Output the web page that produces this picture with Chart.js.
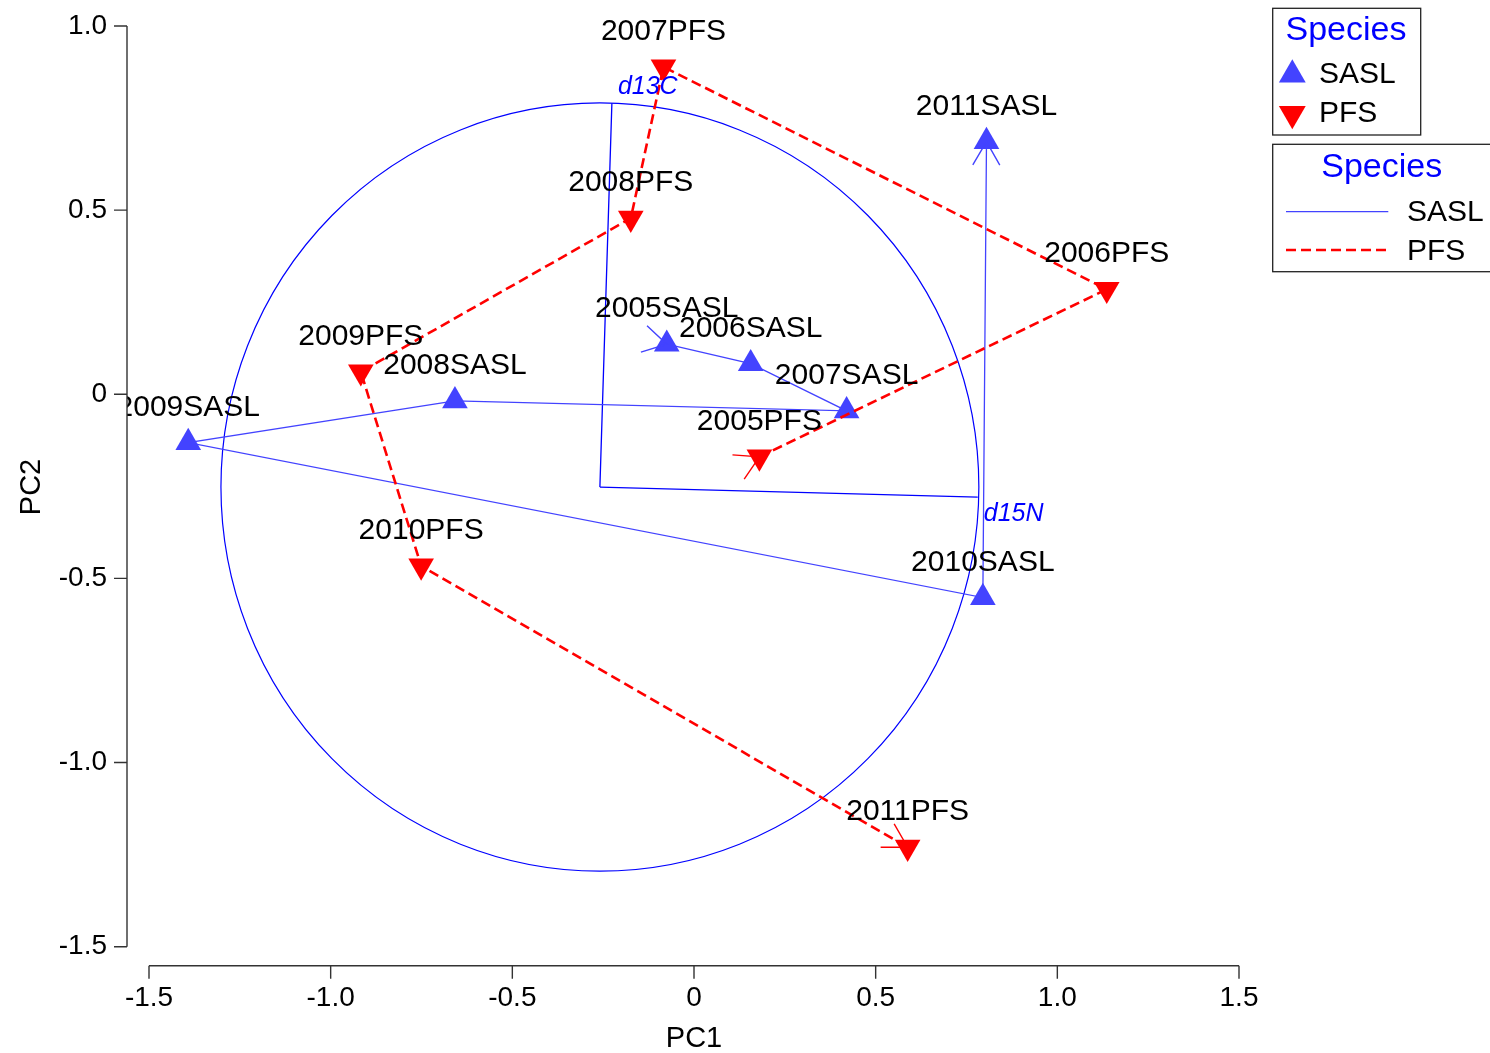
<!DOCTYPE html>
<html>
<head>
<meta charset="utf-8">
<title>PCA biplot: SASL and PFS</title>
<script src="https://cdn.jsdelivr.net/npm/chart.js@4.4.1/dist/chart.umd.min.js"></script>
<style>
  html, body { margin: 0; padding: 0; background: #ffffff; }
  canvas { display: block; }
</style>
</head>
<body>
<canvas id="pca" width="1490" height="1053"></canvas>
<script>
// ---- Sample scores (PC1 / PC2) per year ----
const years = ['2005', '2006', '2007', '2008', '2009', '2010', '2011'];
const saslPC1 = [-0.075, 0.156, 0.420, -0.658, -1.392, 0.795, 0.805];
const saslPC2 = [0.136, 0.083, -0.045, -0.018, -0.131, -0.552, 0.686];
const pfsPC1 = [0.180, 1.136, -0.084, -0.174, -0.917, -0.751, 0.588];
const pfsPC2 = [-0.170, 0.285, 0.889, 0.478, 0.061, -0.466, -1.230];

// ---- Variable loadings (isotope vectors) and correlation circle ----
const loadingNames = ['d13C', 'd15N'];
const loadingOrigin = [-0.259, -0.252];
const loadingPC1 = [-0.226, 0.781];
const loadingPC2 = [0.790, -0.279];
const circleRadius = 1.043;

// ---- Axes ----
const xTicks = [-1.5, -1.0, -0.5, 0, 0.5, 1.0, 1.5];
const yTicks = [-1.5, -1.0, -0.5, 0, 0.5, 1.0];
const speciesNames = ['SASL', 'PFS'];

const FONT = '"Liberation Sans", Arial, Helvetica, sans-serif';
const SASL_COLOR = '#4343ff';
const PFS_COLOR = '#ff0000';
const LOADING_COLOR = '#0000ff';
const AXIS_COLOR = '#333333';
const PFS_DASH = [10, 5];

function toPoints(xs, ys) {
  return xs.map((x, i) => ({ x: x, y: ys[i] }));
}

const saslPoints = toPoints(saslPC1, saslPC2);
const pfsPoints = toPoints(pfsPC1, pfsPC2);

const loadingDatasets = loadingNames.map((name, i) => ({
  label: name,
  data: [{ x: loadingOrigin[0], y: loadingOrigin[1] }, { x: loadingPC1[i], y: loadingPC2[i] }],
  showLine: true,
  borderColor: LOADING_COLOR,
  borderWidth: 1.3,
  pointRadius: 0,
  fill: false,
  clip: false,
  order: 10
}));

// Correlation circle around the loading origin
const circlePlugin = {
  id: 'circle',
  beforeDatasetsDraw(chart) {
    const { ctx, scales: { x, y } } = chart;
    const cx = x.getPixelForValue(loadingOrigin[0]);
    const cy = y.getPixelForValue(loadingOrigin[1]);
    const rx = x.getPixelForValue(loadingOrigin[0] + circleRadius) - cx;
    const ry = cy - y.getPixelForValue(loadingOrigin[1] + circleRadius);
    ctx.save();
    ctx.strokeStyle = LOADING_COLOR;
    ctx.lineWidth = 1.2;
    ctx.beginPath();
    ctx.ellipse(cx, cy, rx, ry, 0, 0, Math.PI * 2);
    ctx.stroke();
    ctx.restore();
  }
};

function wing(ctx, tip, from, color) {
  const ang = Math.atan2(tip.y - from.y, tip.x - from.x);
  const len = 27, spread = Math.PI / 6;
  ctx.save();
  ctx.strokeStyle = color;
  ctx.lineWidth = 1.4;
  ctx.setLineDash([]);
  ctx.beginPath();
  ctx.moveTo(tip.x + Math.cos(ang + Math.PI - spread) * len, tip.y + Math.sin(ang + Math.PI - spread) * len);
  ctx.lineTo(tip.x, tip.y);
  ctx.lineTo(tip.x + Math.cos(ang + Math.PI + spread) * len, tip.y + Math.sin(ang + Math.PI + spread) * len);
  ctx.stroke();
  ctx.restore();
}

// Arrow heads, point labels and loading labels
const annotatePlugin = {
  id: 'annotate',
  afterDatasetsDraw(chart) {
    const { ctx, scales: { x, y } } = chart;
    const series = [
      { name: 'SASL', xs: saslPC1, ys: saslPC2, color: SASL_COLOR },
      { name: 'PFS', xs: pfsPC1, ys: pfsPC2, color: PFS_COLOR }
    ];
    series.forEach(s => {
      const px = s.xs.map(v => x.getPixelForValue(v));
      const py = s.ys.map(v => y.getPixelForValue(v));
      const n = px.length;
      // direction of travel at the first and the last year
      wing(ctx, { x: px[0], y: py[0] }, { x: 2 * px[0] - px[1], y: 2 * py[0] - py[1] }, s.color);
      wing(ctx, { x: px[n - 1], y: py[n - 1] }, { x: px[n - 2], y: py[n - 2] }, s.color);
    });

    const axisX = x.getPixelForValue(xTicks[0]) - 22;
    ctx.save();
    ctx.beginPath();
    ctx.rect(axisX, 0, chart.width - axisX, chart.height);
    ctx.clip();
    ctx.font = '30px ' + FONT;
    ctx.fillStyle = '#000000';
    ctx.textAlign = 'center';
    ctx.textBaseline = 'alphabetic';
    series.forEach(s => {
      s.xs.forEach((v, i) => {
        ctx.fillText(years[i] + s.name, x.getPixelForValue(v), y.getPixelForValue(s.ys[i]) - 27);
      });
    });
    ctx.restore();

    ctx.save();
    ctx.font = 'italic 25px ' + FONT;
    ctx.fillStyle = LOADING_COLOR;
    ctx.textAlign = 'left';
    ctx.textBaseline = 'alphabetic';
    loadingNames.forEach((name, i) => {
      const ex = x.getPixelForValue(loadingPC1[i]);
      const ey = y.getPixelForValue(loadingPC2[i]);
      const above = loadingPC2[i] > loadingOrigin[1];
      ctx.fillText(name, ex + 6, above ? ey - 9 : ey + 24);
    });
    ctx.restore();
  }
};

function triangle(ctx, cx, cy, r, down, color) {
  ctx.save();
  ctx.fillStyle = color;
  ctx.beginPath();
  const s = down ? -1 : 1;
  ctx.moveTo(cx, cy - s * r);
  ctx.lineTo(cx + r * Math.sqrt(3) / 2, cy + s * r / 2);
  ctx.lineTo(cx - r * Math.sqrt(3) / 2, cy + s * r / 2);
  ctx.closePath();
  ctx.fill();
  ctx.restore();
}

// Detached axes, axis titles and the two legend boxes
const framePlugin = {
  id: 'frame',
  afterDraw(chart) {
    const { ctx, scales: { x, y } } = chart;
    const axisX = x.getPixelForValue(xTicks[0]) - 22;
    const axisY = y.getPixelForValue(yTicks[0]) + 19;
    ctx.save();
    ctx.strokeStyle = AXIS_COLOR;
    ctx.lineWidth = 1.4;
    ctx.beginPath();
    ctx.moveTo(axisX, y.getPixelForValue(yTicks[yTicks.length - 1]));
    ctx.lineTo(axisX, y.getPixelForValue(yTicks[0]));
    yTicks.forEach(t => {
      const p = y.getPixelForValue(t);
      ctx.moveTo(axisX - 13, p);
      ctx.lineTo(axisX, p);
    });
    ctx.moveTo(x.getPixelForValue(xTicks[0]), axisY);
    ctx.lineTo(x.getPixelForValue(xTicks[xTicks.length - 1]), axisY);
    xTicks.forEach(t => {
      const p = x.getPixelForValue(t);
      ctx.moveTo(p, axisY);
      ctx.lineTo(p, axisY + 13);
    });
    ctx.stroke();

    ctx.fillStyle = '#000000';
    ctx.font = '29px ' + FONT;
    ctx.textAlign = 'center';
    ctx.textBaseline = 'alphabetic';
    ctx.fillText('PC1', x.getPixelForValue(0), 1047);
    ctx.save();
    ctx.translate(40, 487);
    ctx.rotate(-Math.PI / 2);
    ctx.fillText('PC2', 0, 0);
    ctx.restore();

    // legend: shape
    ctx.strokeStyle = '#222222';
    ctx.lineWidth = 1.3;
    ctx.strokeRect(1272.7, 8.3, 148, 126.7);
    ctx.font = '34px ' + FONT;
    ctx.fillStyle = LOADING_COLOR;
    ctx.fillText('Species', 1346, 40);
    triangle(ctx, 1292.3, 74.8, 15.5, false, SASL_COLOR);
    triangle(ctx, 1292.3, 113.8, 15.5, true, PFS_COLOR);
    ctx.font = '30px ' + FONT;
    ctx.fillStyle = '#000000';
    ctx.textAlign = 'left';
    ctx.fillText(speciesNames[0], 1319, 83);
    ctx.fillText(speciesNames[1], 1319, 122);

    // legend: line type
    ctx.strokeRect(1272.7, 144.3, 230, 127.4);
    ctx.font = '34px ' + FONT;
    ctx.fillStyle = LOADING_COLOR;
    ctx.textAlign = 'center';
    ctx.fillText('Species', 1381.7, 177);
    ctx.strokeStyle = SASL_COLOR;
    ctx.lineWidth = 1.3;
    ctx.beginPath();
    ctx.moveTo(1286, 211.7);
    ctx.lineTo(1388.3, 211.7);
    ctx.stroke();
    ctx.strokeStyle = PFS_COLOR;
    ctx.lineWidth = 2.5;
    ctx.setLineDash(PFS_DASH);
    ctx.beginPath();
    ctx.moveTo(1286, 250);
    ctx.lineTo(1388.3, 250);
    ctx.stroke();
    ctx.setLineDash([]);
    ctx.font = '30px ' + FONT;
    ctx.fillStyle = '#000000';
    ctx.textAlign = 'left';
    ctx.fillText(speciesNames[0], 1407, 221);
    ctx.fillText(speciesNames[1], 1407, 260);
    ctx.restore();
  }
};

Chart.defaults.font.family = FONT;
Chart.defaults.color = '#000000';

function fixX(scale) {
  scale.height = 106.3;
  scale.paddingLeft = 0;
  scale.paddingRight = 0;
  scale.paddingTop = 0;
  scale.paddingBottom = 0;
}
function fixY(scale) {
  scale.width = 149;
  scale.paddingLeft = 0;
  scale.paddingRight = 0;
  scale.paddingTop = 0;
  scale.paddingBottom = 0;
}

new Chart(document.getElementById('pca'), {
  type: 'scatter',
  data: {
    datasets: [
      ...loadingDatasets,
      {
        label: 'SASL path',
        data: saslPoints,
        showLine: true,
        borderColor: SASL_COLOR,
        borderWidth: 1.3,
        pointRadius: 0,
        clip: false,
        order: 8
      },
      {
        label: 'SASL',
        data: saslPoints,
        showLine: false,
        pointStyle: 'triangle',
        pointRadius: 14.8,
        pointHoverRadius: 14.8,
        backgroundColor: SASL_COLOR,
        borderWidth: 0,
        clip: false,
        order: 7
      },
      {
        label: 'PFS path',
        data: pfsPoints,
        showLine: true,
        borderColor: PFS_COLOR,
        borderWidth: 2.6,
        borderDash: PFS_DASH,
        pointRadius: 0,
        clip: false,
        order: 6
      },
      {
        label: 'PFS',
        data: pfsPoints,
        showLine: false,
        pointStyle: 'triangle',
        rotation: 180,
        pointRadius: 14.8,
        pointHoverRadius: 14.8,
        backgroundColor: PFS_COLOR,
        borderWidth: 0,
        clip: false,
        order: 5
      }
    ]
  },
  options: {
    responsive: false,
    devicePixelRatio: 1,
    animation: false,
    events: [],
    layout: { padding: { left: 0, right: 251, top: 26, bottom: 0 } },
    plugins: { legend: { display: false }, tooltip: { enabled: false }, title: { display: false } },
    scales: {
      x: {
        type: 'linear',
        min: xTicks[0],
        max: xTicks[xTicks.length - 1],
        grid: { display: false, drawTicks: false, tickLength: 0 },
        border: { display: false },
        afterFit: fixX,
        afterBuildTicks(scale) { scale.ticks = xTicks.map(v => ({ value: v })); },
        ticks: {
          font: { size: 28 },
          color: '#000000',
          padding: 35,
          maxRotation: 0,
          autoSkip: false,
          callback: v => (v === 0 ? '0' : v.toFixed(1))
        }
      },
      y: {
        type: 'linear',
        min: yTicks[0],
        max: yTicks[yTicks.length - 1],
        grid: { display: false, drawTicks: false, tickLength: 0 },
        border: { display: false },
        afterFit: fixY,
        afterBuildTicks(scale) { scale.ticks = yTicks.map(v => ({ value: v })); },
        ticks: {
          font: { size: 28 },
          color: '#000000',
          padding: 42,
          autoSkip: false,
          callback: v => (v === 0 ? '0' : v.toFixed(1))
        }
      }
    }
  },
  plugins: [circlePlugin, annotatePlugin, framePlugin]
});
</script>
</body>
</html>
